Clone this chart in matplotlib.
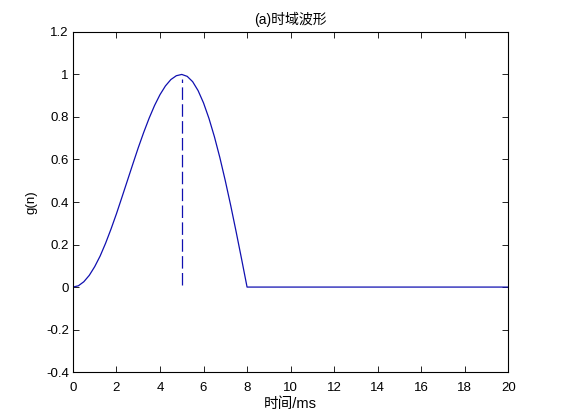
import matplotlib
matplotlib.use("Agg")
import matplotlib.pyplot as plt

plt.rcParams["font.family"] = ["Liberation Sans", "Noto Sans CJK SC", "DejaVu Sans"]

# pulse samples (ms, amplitude)
t_ms = [0.0, 0.25, 0.5, 0.75, 1.0, 1.25, 1.5, 1.75, 2.0, 2.25, 2.5, 2.75,
        3.0, 3.25, 3.5, 3.75, 4.0, 4.25, 4.5, 4.75, 5.0, 5.25, 5.5, 5.75,
        6.0, 6.25, 6.5, 6.75, 7.0, 7.25, 7.5, 7.75, 8.0, 20.0]
g_n = [0.0, 0.006, 0.025, 0.055, 0.096, 0.146, 0.206, 0.273, 0.345, 0.422,
       0.5, 0.578, 0.655, 0.727, 0.794, 0.854, 0.905, 0.946, 0.976, 0.994,
       1.0, 0.991, 0.966, 0.924, 0.866, 0.793, 0.707, 0.609, 0.5, 0.383,
       0.259, 0.131, 0.0, 0.0]

peak_t = 5.0
peak_g = 1.0

xticks = [0, 2, 4, 6, 8, 10, 12, 14, 16, 18, 20]
yticks = [-0.4, -0.2, 0, 0.2, 0.4, 0.6, 0.8, 1, 1.2]
ytick_labels = ["-0.4", "-0.2", "0", "0.2", "0.4", "0.6", "0.8", "1", "1.2"]

line_color = "#1010b0"

fig = plt.figure(figsize=(5.61, 4.2), dpi=100)
ax = fig.add_axes([0.13, 0.114, 0.776, 0.81])

ax.plot(t_ms, g_n, color=line_color, lw=0.9)
ax.plot([peak_t, peak_t], [0.01, peak_g * 0.98], color=line_color, lw=0.9,
        linestyle=(0, (10, 3.5)))

ax.set_xlim(0, 20)
ax.set_ylim(-0.4, 1.2)
ax.set_xticks(xticks)
ax.set_xticklabels([str(v) for v in xticks])
ax.set_yticks(yticks)
ax.set_yticklabels(ytick_labels)
ax.tick_params(direction="in", length=4, width=0.6, top=True, right=True,
               labelsize=9.5)
ax.tick_params(axis="x", pad=7)
ax.tick_params(axis="y", pad=3)
for s in ax.spines.values():
    s.set_linewidth(0.8)

ax.set_title("(a)时域波形", fontsize=10, pad=6)
ax.set_xlabel("时间/ms", fontsize=10.5, labelpad=2)
ax.set_ylabel("g(n)", fontsize=9.5, labelpad=6)

fig.savefig("out.png", dpi=100)
